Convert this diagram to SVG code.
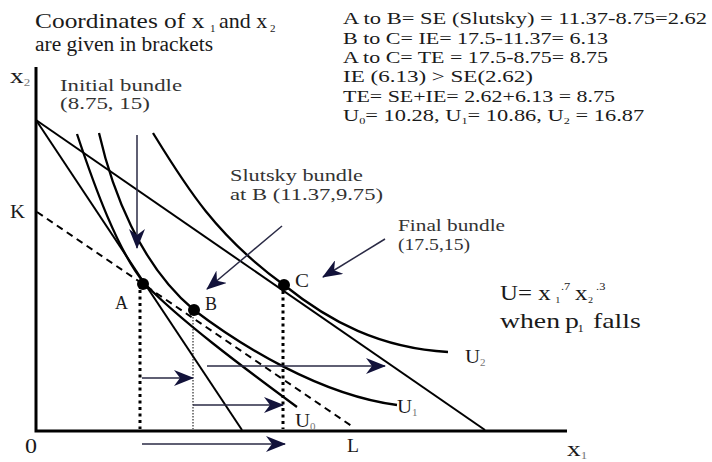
<svg xmlns="http://www.w3.org/2000/svg" width="712" height="462" viewBox="0 0 712 462" font-family="'Liberation Serif', 'Times New Roman', serif">
<style>
text{font-family:"Liberation Serif","Times New Roman",serif;fill:#1a1a1a}
.lbl{fill:#333}
.sb{font-size:10px;fill:#777}
.ax{stroke:#000;stroke-width:3;fill:none}
.bl{stroke:#000;stroke-width:2;fill:none}
.ic{stroke:#000;stroke-width:2.3;fill:none}
.arr{stroke:#2a2a45;stroke-width:1.5;fill:none;marker-end:url(#ah)}
.dot3{stroke:#000;stroke-width:3;stroke-dasharray:3 3.5;fill:none}
.dot1{stroke:#000;stroke-width:1;stroke-dasharray:1.5 1.5;fill:none}
</style>
<defs>
<marker id="ah" viewBox="0 0 20 16" refX="19" refY="8" markerWidth="20" markerHeight="16" markerUnits="userSpaceOnUse" orient="auto">
<path d="M0,0 L20,8 L0,16 L6,8 z" fill="#12123a"/>
</marker>
</defs>
<rect width="712" height="462" fill="#fff"/>

<g id="axes">
<path class="ax" d="M36,67 L36,431 L567,431"/>
<text transform="translate(10,83) scale(1.3,1)" font-size="21">x<tspan class="sb" dy="3">2</tspan></text>
<text transform="translate(567,456) scale(1.3,1)" font-size="21">x<tspan class="sb" dy="3">1</tspan></text>
<text x="25" y="453" font-size="20" textLength="12" lengthAdjust="spacingAndGlyphs">0</text>
<text x="10" y="218" font-size="19" textLength="15" lengthAdjust="spacingAndGlyphs">K</text>
<text x="347" y="452" font-size="19" textLength="12" lengthAdjust="spacingAndGlyphs">L</text>
</g>

<g id="budget-lines">
<path class="bl" d="M36,120 L242,430"/>
<path class="bl" d="M36,120 L485,430"/>
<path class="bl" d="M37,212 L353,427" stroke-dasharray="7 5"/>
</g>

<g id="indifference-curves">
<g id="U0">
<path class="ic" d="M77,134 C94,185 118,252 145,284 C180,320 240,365 297,407"/>
<text transform="translate(295,427) scale(1.1,1)" font-size="19">U<tspan class="sb" dy="3">0</tspan></text>
</g>
<g id="U1">
<path class="ic" d="M99,133 C112,190 140,265 194,310 C240,345 320,395 397,405"/>
<text transform="translate(397,413) scale(1.1,1)" font-size="19">U<tspan class="sb" dy="3">1</tspan></text>
</g>
<g id="U2">
<path class="ic" d="M153,133 C185,185 215,235 284,285 C330,322 380,348 448,352"/>
<text transform="translate(465,363) scale(1.1,1)" font-size="19">U<tspan class="sb" dy="3">2</tspan></text>
</g>
</g>

<g id="dropdowns">
<path class="dot3" d="M140,290 L140,429"/>
<path class="dot1" d="M193,314 L193,429"/>
<path class="dot3" d="M283,291 L283,429"/>
</g>

<g id="points">
<g id="A"><circle cx="143" cy="284" r="6" fill="#000"/><text x="115" y="309" font-size="19" textLength="13" lengthAdjust="spacingAndGlyphs">A</text></g>
<g id="B"><circle cx="194" cy="310" r="6" fill="#000"/><text x="205" y="310" font-size="19" textLength="12" lengthAdjust="spacingAndGlyphs">B</text></g>
<g id="C"><circle cx="284" cy="285" r="6" fill="#000"/><text x="295" y="287" font-size="19" textLength="14" lengthAdjust="spacingAndGlyphs">C</text></g>
</g>

<g id="connectors">
<path class="arr" d="M137,135 L137,248" stroke="#555"/>
<path class="arr" d="M282,226 L207,289"/>
<path class="arr" d="M385,239 L323,277"/>
<path class="arr" d="M142,378 L193,378"/>
<path class="arr" d="M193,405 L283,405"/>
<path class="arr" d="M207,366 L385,366"/>
<path class="arr" d="M142,444 L285,444"/>
</g>

<g id="notes">
<text transform="translate(35,28) scale(1.24,1)" font-size="20.5">Coordinates of x</text>
<text x="210" y="32" font-size="11">1</text>
<text transform="translate(219,28) scale(1.07,1)" font-size="20.5">and x</text>
<text x="270" y="32" font-size="11">2</text>
<text x="35" y="51" font-size="20.5" textLength="178" lengthAdjust="spacingAndGlyphs">are given in brackets</text>

<g font-size="16.5">
<text x="343" y="24" textLength="364" lengthAdjust="spacingAndGlyphs">A to B= SE (Slutsky) = 11.37-8.75=2.62</text>
<text x="343" y="43.5" textLength="265" lengthAdjust="spacingAndGlyphs">B to C= IE= 17.5-11.37= 6.13</text>
<text x="343" y="63" textLength="265" lengthAdjust="spacingAndGlyphs">A to C= TE = 17.5-8.75= 8.75</text>
<text x="343" y="82" textLength="190" lengthAdjust="spacingAndGlyphs">IE (6.13) &gt; SE(2.62)</text>
<text x="343" y="102" textLength="272" lengthAdjust="spacingAndGlyphs">TE= SE+IE= 2.62+6.13 = 8.75</text>
<text transform="translate(343,121) scale(1.36,1)">U<tspan font-size="9" dy="3">0</tspan><tspan dy="-3">= 10.28, U</tspan><tspan font-size="9" dy="3">1</tspan><tspan dy="-3">= 10.86, U</tspan><tspan font-size="9" dy="3">2</tspan><tspan dy="-3"> = 16.87</tspan></text>
</g>

<text transform="translate(500,300) scale(1.13,1)" font-size="22">U= x<tspan font-size="9" x="49" y="3">1</tspan><tspan font-size="11" x="54" y="-10">.7</tspan><tspan x="66.4" y="0">x</tspan><tspan font-size="9" x="77.9" y="3">2</tspan><tspan font-size="11" x="85" y="-10">.3</tspan></text>
<text transform="translate(500,328) scale(1.26,1)" font-size="22">when<tspan x="51.6" y="0">p</tspan><tspan font-size="10" x="61.5" y="4">1</tspan><tspan x="73.8" y="0">falls</tspan></text>

<text class="lbl" x="60" y="91" font-size="17" textLength="122" lengthAdjust="spacingAndGlyphs">Initial bundle</text>
<text class="lbl" x="60" y="109" font-size="17" textLength="90" lengthAdjust="spacingAndGlyphs">(8.75, 15)</text>
<text class="lbl" x="230" y="181" font-size="17" textLength="133" lengthAdjust="spacingAndGlyphs">Slutsky bundle</text>
<text class="lbl" x="230" y="200" font-size="17" textLength="153" lengthAdjust="spacingAndGlyphs">at B (11.37,9.75)</text>
<text class="lbl" x="398" y="231" font-size="17" textLength="107" lengthAdjust="spacingAndGlyphs">Final bundle</text>
<text class="lbl" x="398" y="250" font-size="17" textLength="72" lengthAdjust="spacingAndGlyphs">(17.5,15)</text>
</g>
</svg>
